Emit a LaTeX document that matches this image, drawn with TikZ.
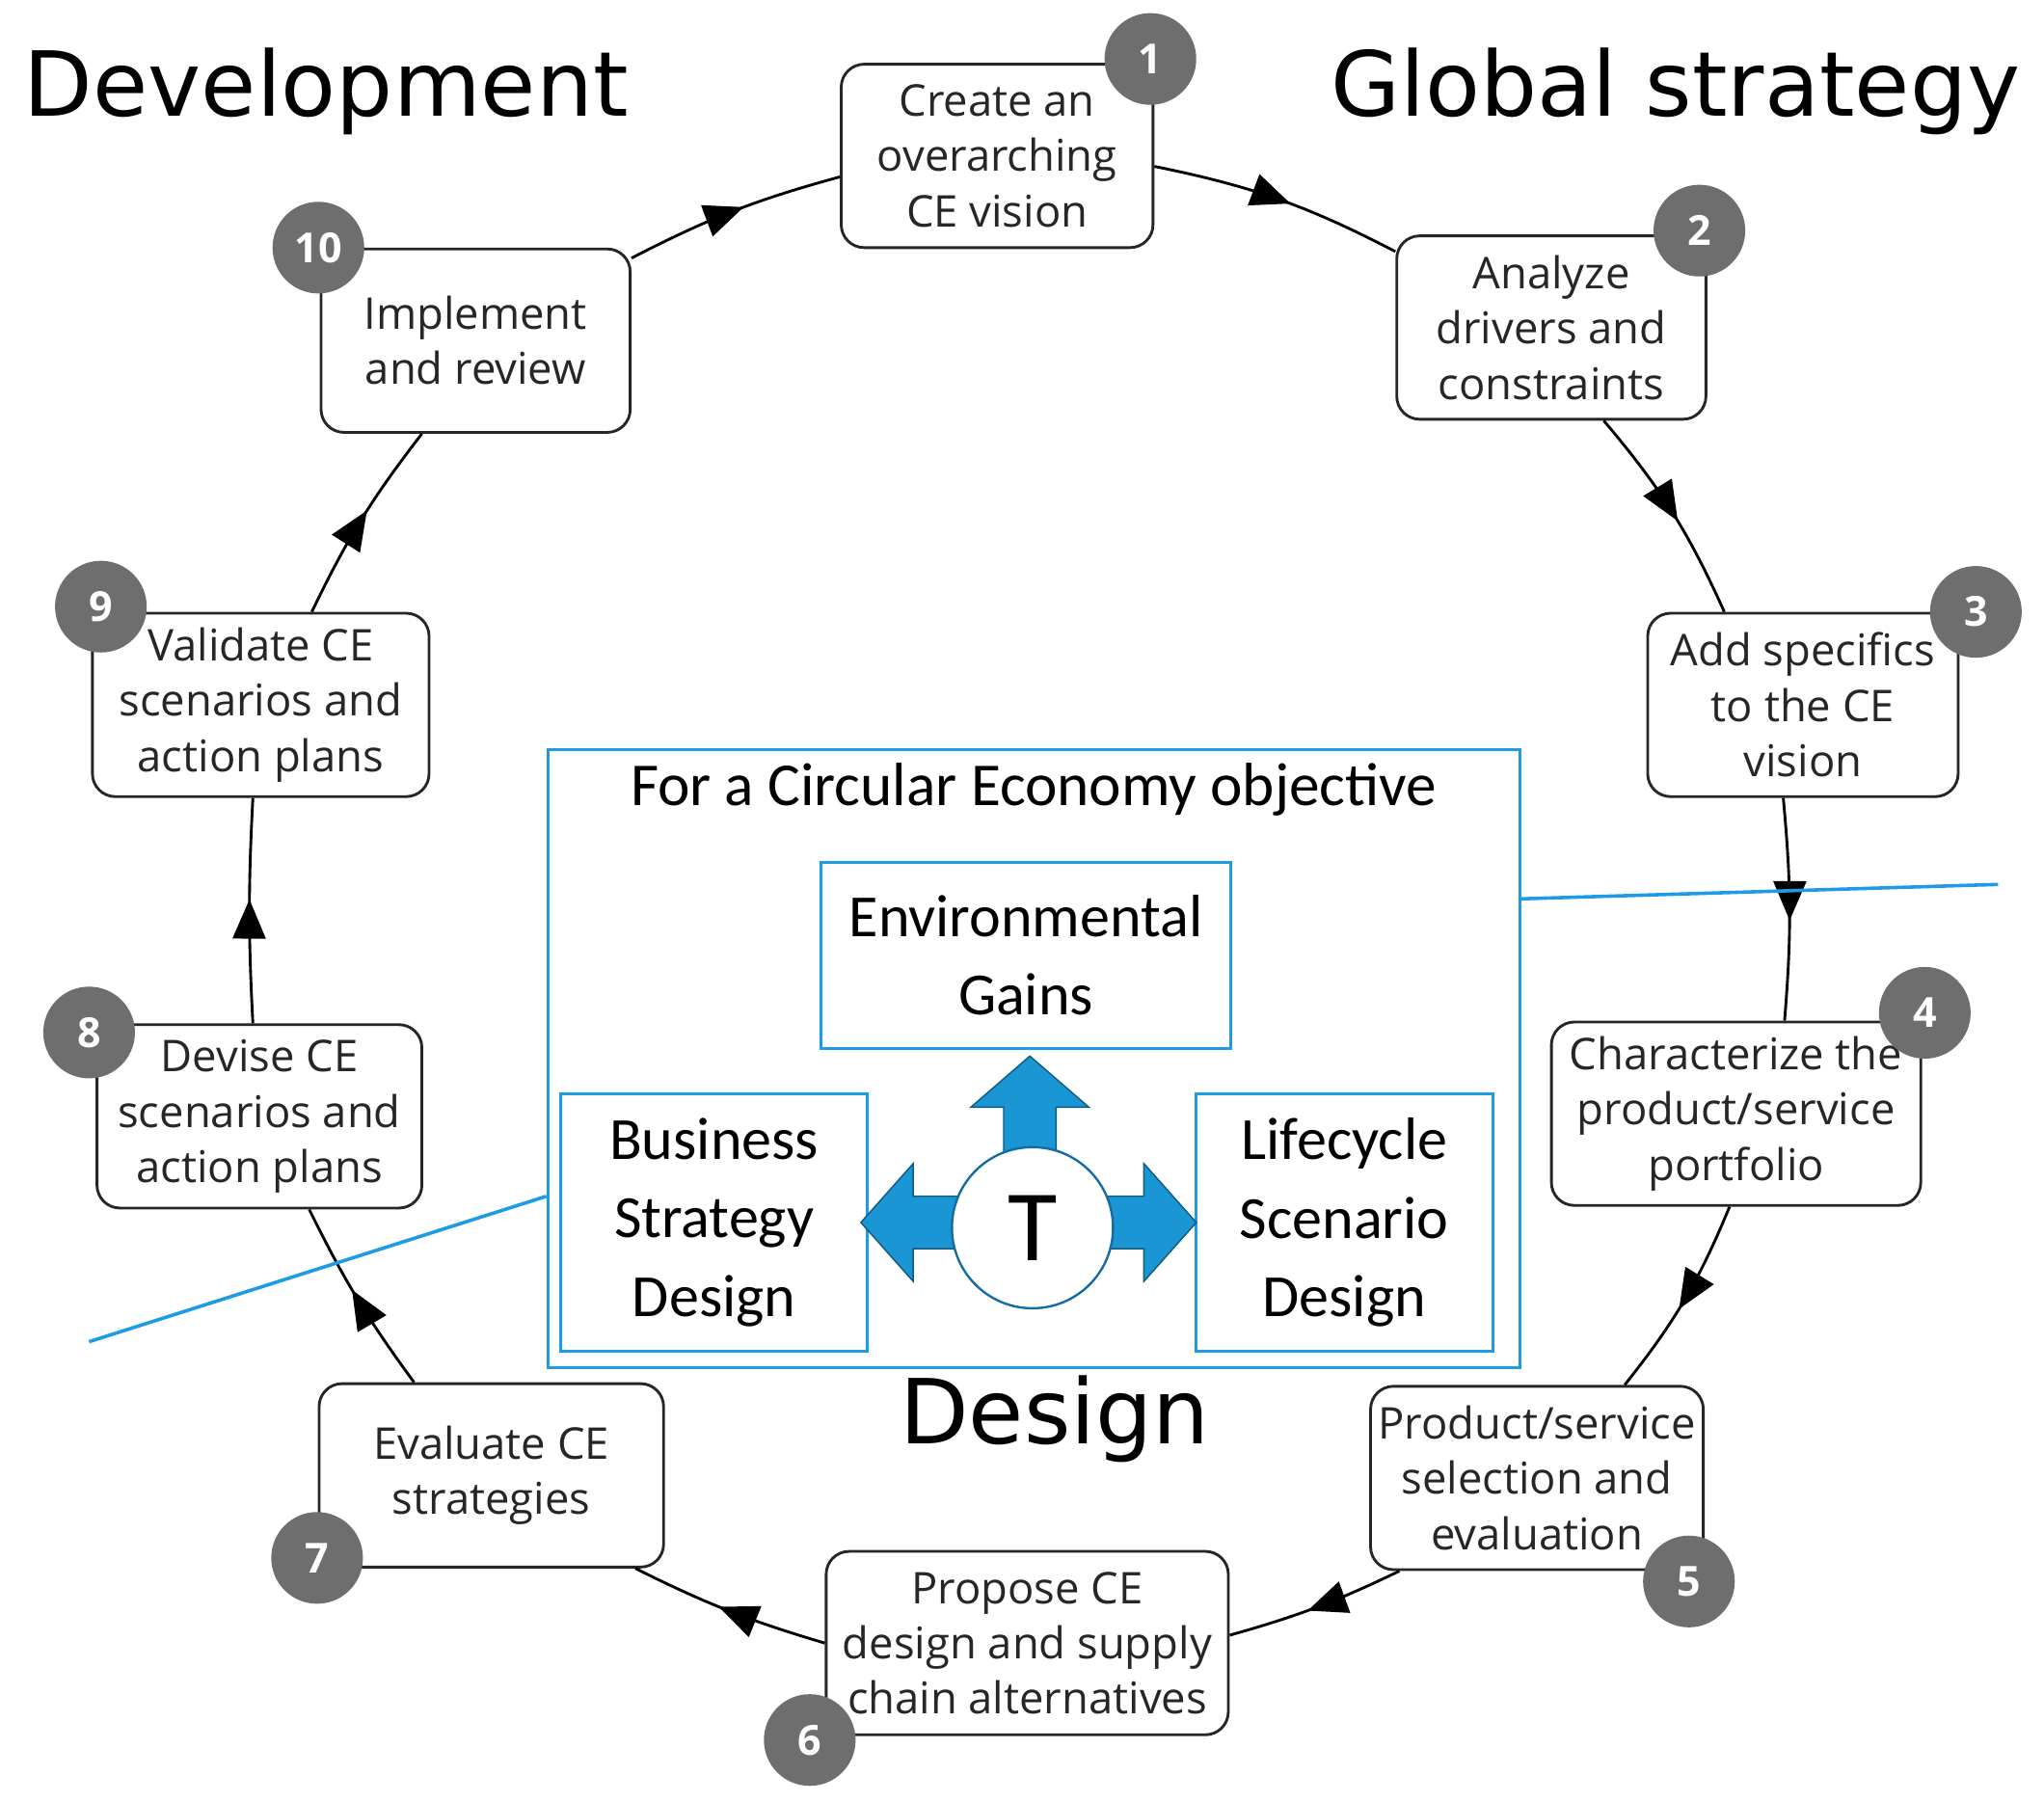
\documentclass[tikz,border=0pt]{standalone}
\usepackage{fontspec}
\setmainfont{Open Sans}
\newfontfamily\djv{DejaVu Sans}
\newfontfamily\crl{Carlito}
\usetikzlibrary{arrows.meta,decorations.markings,calc}
\definecolor{ceblue}{HTML}{1E9BE6}
\definecolor{cefill}{HTML}{1A96D4}
\definecolor{badgegray}{HTML}{6E6E6E}
\begin{document}
\begin{tikzpicture}[x=0.02cm,y=-0.02cm,
 box/.style={draw=black!85,line width=1.2pt,rounded corners=0.35cm,fill=white,align=center,
   minimum height=2.8cm,inner sep=1pt,font=\fontsize{19}{24}\selectfont,text=black!85},
 badge/.style={circle,fill=badgegray,text=white,minimum size=1.4cm,inner sep=0pt,font=\fontsize{18}{18}\selectfont\bfseries},
 conn/.style={line width=1.2pt,black,decoration={markings,mark=at position 0.55 with {\arrow{Triangle[length=0.6cm,width=0.5cm]}}},postaction={decorate}},
 bbox/.style={draw=ceblue,line width=1.2pt,align=center,font=\crl\fontsize{26}{34}\selectfont},
 title/.style={font=\djv\fontsize{39}{46}\selectfont}]
\useasboundingbox (0,0) rectangle (1560,1375);
% blue lines
\coordinate (lr) at (1525,675);
\coordinate (ll) at (68,1024);
% boxes
\node[box,minimum width=4.76cm] (n1) at (761,119) {Create an\\overarching\\CE vision};
\node[box,minimum width=4.72cm] (n2) at (1184,250) {Analyze\\drivers and\\constraints};
\node[box,minimum width=4.74cm] (n3) at (1376,538) {Add specifics\\to the CE\\vision};
\node[box,minimum width=5.64cm] (n4) at (1325,850) {Characterize the\\product/service\\portfolio};
\node[box,minimum width=5.08cm] (n5) at (1173,1128) {Product/service\\selection and\\evaluation};
\node[box,minimum width=6.14cm] (n6) at (784,1254) {Propose CE\\design and supply\\chain alternatives};
\node[box,minimum width=5.26cm] (n7) at (375,1126) {Evaluate CE\\strategies};
\node[box,minimum width=4.96cm] (n8) at (198,852) {Devise CE\\scenarios and\\action plans};
\node[box,minimum width=5.14cm] (n9) at (199,538) {Validate CE\\scenarios and\\action plans};
\node[box,minimum width=4.72cm] (n10) at (363,260) {Implement\\and review};
% connectors
\draw[conn] ($(n1.east)+(0,8)$) to[bend left=8] ($(n2.west)+(0,-58)$);
\draw[conn] ($(n2.south)+(40,0)$) to[bend left=8] ($(n3.north)+(-60,0)$);
\draw[conn] ($(n3.south)+(-15,0)$) to[bend left=5] ($(n4.north)+(37,0)$);
\draw[conn] ($(n4.south)+(-5,0)$) to[bend left=8] ($(n5.north)+(67,0)$);
\draw[conn] ($(n5.south)+(-105,0)$) to[bend left=5] ($(n6.east)+(0,-6)$);
\draw[conn] (n6.west) to[bend left=5] ($(n7.south)+(110,0)$);
\draw[conn] ($(n7.north)+(-59,0)$) to[bend left=5] ($(n8.south)+(38,0)$);
\draw[conn] ($(n8.north)+(-5,0)$) to[bend left=3] ($(n9.south)+(-6,0)$);
\draw[conn] ($(n9.north)+(39,0)$) to[bend left=6] ($(n10.south)+(-41,0)$);
\draw[conn] ($(n10.north east)+(0,8)$) to[bend left=6] ($(n1.west)+(0,16)$);
% badges
\node[badge] (b1) at (878,45) {1};
\node[badge] (b2) at (1297,176) {2};
\node[badge] (b3) at (1508,467) {3};
\node[badge] (b4) at (1469,773) {4};
\node[badge] (b5) at (1289,1207) {5};
\node[badge] (b6) at (618,1328) {6};
\node[badge] (b7) at (242,1189) {7};
\node[badge] (b8) at (68,788) {8};
\node[badge] (b9) at (77,463) {9};
\node[badge] (b10) at (243,189) {10};
% center frame
\node[draw=ceblue,line width=1.2pt,minimum width=14.84cm,minimum height=9.44cm,inner sep=0pt] (frame) at (789,808) {};
\node[font=\crl\fontsize{26.5}{30}\selectfont,anchor=north] (ft) at (789,576) {For a Circular Economy objective};
\draw[ceblue,line width=1.5pt] (frame.east |- 0,686) -- (lr);
\draw[ceblue,line width=1.5pt] (frame.west |- 0,913) -- (ll);
\node[bbox,minimum width=6.26cm,minimum height=2.84cm] (env) at (783,729) {Environmental\\Gains};
\node[bbox,minimum width=4.68cm,minimum height=3.94cm] (bus) at (545,933) {Business\\Strategy\\Design};
\node[bbox,minimum width=4.54cm,minimum height=3.94cm] (life) at (1026,933) {Lifecycle\\Scenario\\Design};
\fill[cefill,draw=cefill!60!black,line width=0.6pt]
 (766,880) -- (766,845) -- (741,845) -- (786,806) -- (831,845) -- (806,845) -- (806,880) -- cycle;
\fill[cefill,draw=cefill!60!black,line width=0.6pt]
 (740,913) -- (697,913) -- (697,888) -- (657,933) -- (697,978) -- (697,953) -- (740,953) -- cycle;
\fill[cefill,draw=cefill!60!black,line width=0.6pt]
 (836,913) -- (873,913) -- (873,888) -- (913,933) -- (873,978) -- (873,953) -- (836,953) -- cycle;
\node[circle,draw=ceblue!70!black,line width=1pt,fill=white,minimum size=2.46cm,inner sep=0pt,font=\crl\fontsize{44}{44}\selectfont] (T) at (788,937) {T};
% titles
\node[title,anchor=west] (dev) at (12,70) {Development};
\node[title,anchor=east] (glob) at (1548,70) {Global strategy};
\node[title] (des) at (805,1083) {Design};
\end{tikzpicture}
\end{document}
